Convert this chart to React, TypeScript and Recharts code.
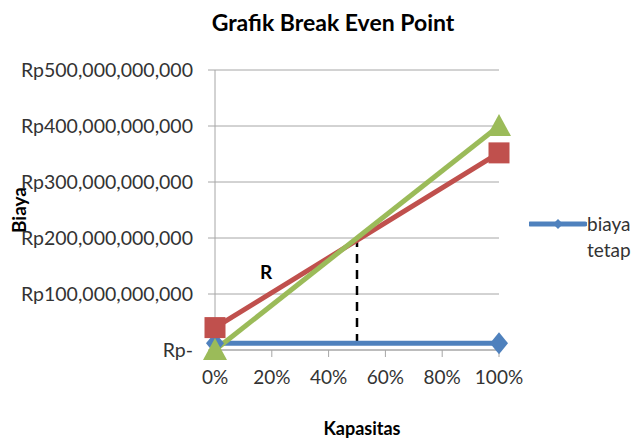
import { LineChart, Line, XAxis, YAxis, CartesianGrid, ReferenceLine, ReferenceDot } from "recharts"

const kapasitas = [0, 1]
const biayaTetap = [12e9, 12e9]
const biayaTotal = [40e9, 352e9]
const pendapatan = [0, 400e9]
const xTicks = [0, 0.2, 0.4, 0.6, 0.8, 1]
const yTicks = [0, 1e11, 2e11, 3e11, 4e11, 5e11]
const bep = { x: 0.5, y: 2e11 }
const pointLabel = { x: 0.18, y: 1.4e11, text: "R" }
const legendName = "biaya tetap"

const font = "Lato, 'Open Sans', sans-serif"
const blue = "#4f81bd"
const red = "#c0504d"
const green = "#9bbb59"

const data = kapasitas.map((k, i) => ({
  kapasitas: k,
  tetap: biayaTetap[i],
  total: biayaTotal[i],
  pendapatan: pendapatan[i],
}))

const fmtRp = (v: number) => (v === 0 ? "Rp-" : "Rp" + v.toLocaleString("en-US"))
const fmtPct = (v: number) => Math.round(v * 100) + "%"

function Diamond(props: any) {
  const { cx, cy, fill } = props
  return <polygon points={`${cx},${cy - 11} ${cx + 9},${cy} ${cx},${cy + 11} ${cx - 9},${cy}`} fill={fill} />
}

function Square(props: any) {
  const { cx, cy, fill } = props
  return <rect x={cx - 10.5} y={cy - 10.5} width={21} height={21} fill={fill} />
}

function Triangle(props: any) {
  const { cx, cy, fill } = props
  return <polygon points={`${cx},${cy - 12} ${cx + 12},${cy + 10} ${cx - 12},${cy + 10}`} fill={fill} />
}

export default function App() {
  return (
    <div style={{ position: "absolute", left: 0, top: 0, width: 636, height: 440, fontFamily: font, background: "#fff", overflow: "hidden" }}>
      <div style={{ position: "absolute", left: 333, top: 22, transform: "translate(-50%, -50%)", whiteSpace: "nowrap", fontWeight: 700, fontSize: 23, color: "#000" }}>
        Grafik Break Even Point
      </div>
      <div
        style={{
          position: "absolute",
          left: 18,
          top: 210,
          transform: "translate(-50%, -50%) rotate(-90deg)",
          fontWeight: 700,
          fontSize: 19,
          color: "#000",
        }}
      >
        Biaya
      </div>
      <div style={{ position: "absolute", left: 362, top: 428, transform: "translate(-50%, -50%)", whiteSpace: "nowrap", fontWeight: 700, fontSize: 18, lineHeight: "20px", color: "#000" }}>
        Kapasitas
      </div>
      <div style={{ position: "absolute", left: 529, top: 211, display: "flex", alignItems: "flex-start" }}>
        <svg width={58} height={26}>
          <line x1={1} y1={13} x2={56} y2={13} stroke={blue} strokeWidth={5} strokeLinecap="round" />
          <polygon points="29,8 34,13 29,18 24,13" fill={blue} />
        </svg>
        <div style={{ width: 50, fontSize: 19, lineHeight: "26px", color: "#333" }}>{legendName}</div>
      </div>
      <LineChart width={636} height={440} data={data} margin={{ top: 70, right: 137, bottom: 40, left: 0 }}>
        <CartesianGrid vertical={false} stroke="#a6a6a6" />
        <XAxis
          dataKey="kapasitas"
          type="number"
          domain={[0, 1]}
          ticks={xTicks}
          tickFormatter={fmtPct}
          height={50}
          stroke="#a6a6a6"
          tickSize={7}
          tickMargin={14}
          tick={{ fill: "#333", fontSize: 19, fontFamily: font }}
        />
        <YAxis
          type="number"
          domain={[0, 5e11]}
          ticks={yTicks}
          tickFormatter={fmtRp}
          width={215}
          stroke="#a6a6a6"
          tickSize={7}
          tickMargin={15}
          tick={{ fill: "#333", fontSize: 19.5, fontFamily: font }}
        />
        <ReferenceLine
          segment={[
            { x: bep.x, y: bep.y },
            { x: bep.x, y: biayaTetap[0] },
          ]}
          stroke="#000"
          strokeWidth={2.5}
          strokeDasharray="9 7"
        />
        <Line
          dataKey="tetap"
          name={legendName}
          stroke={blue}
          strokeWidth={5}
          dot={(p: any) => <Diamond key={"d" + p.index} {...p} fill={blue} />}
          isAnimationActive={false}
        />
        <Line
          dataKey="total"
          name="biaya total"
          stroke={red}
          strokeWidth={5}
          dot={(p: any) => <Square key={"s" + p.index} {...p} fill={red} />}
          isAnimationActive={false}
        />
        <Line
          dataKey="pendapatan"
          name="pendapatan"
          stroke={green}
          strokeWidth={5}
          dot={(p: any) => <Triangle key={"t" + p.index} {...p} fill={green} />}
          isAnimationActive={false}
        />
        <ReferenceDot
          x={pointLabel.x}
          y={pointLabel.y}
          r={0}
          shape={(p: any) => (
            <text x={p.cx} y={p.cy} textAnchor="middle" dominantBaseline="central" fontWeight={700} fontSize={19} fontFamily={font} fill="#000">
              {pointLabel.text}
            </text>
          )}
        />
      </LineChart>
    </div>
  )
}
